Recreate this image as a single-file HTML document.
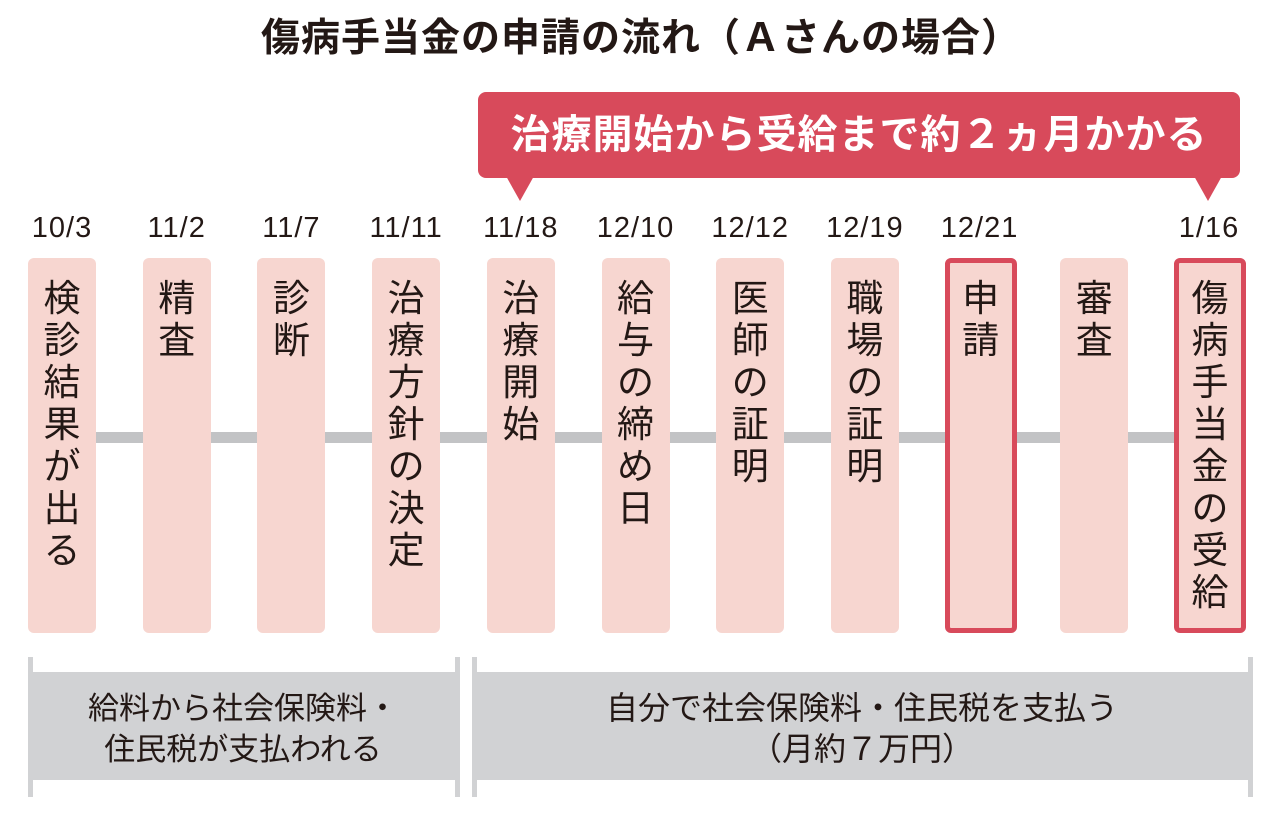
<!DOCTYPE html>
<html><head><meta charset="utf-8">
<style>
body{margin:0;width:1282px;height:820px;background:#fff;position:relative;overflow:hidden;font-family:"Liberation Sans","Noto Sans CJK JP",sans-serif;color:#231815}
.abs{position:absolute}
.title{left:0;width:1282px;top:14px;text-align:center;font-size:39px;font-weight:bold;letter-spacing:1px;line-height:50px}
.callout{left:478px;top:92px;width:762px;height:86px;background:#d84a5b;border-radius:8px;color:#fff;font-weight:bold;font-size:40px;line-height:86px;text-align:center;letter-spacing:1px}
.line{left:96px;top:432px;width:1080px;height:11px;background:#c2c3c5}
.box{top:258px;height:375px;width:68px;background:#f7d6d0;border-radius:6px;box-sizing:border-box;font-size:37px;line-height:42px;text-align:center;padding-top:20px}
.box.hl{border:5px solid #d84a5b;padding-top:15px;width:72px}
.date{top:212px;width:120px;text-align:center;font-size:29px;letter-spacing:1px}
.band{top:672px;height:108px;background:#d1d2d4;font-size:31px;line-height:41px;text-align:center;padding-top:16px;box-sizing:border-box}
.tick{top:657px;height:140px;width:5px;background:#d1d2d4}
</style></head><body>
<div class="abs title">傷病手当金の申請の流れ（Ａさんの場合）</div>
<div class="abs callout">治療開始から受給まで約２ヵ月かかる</div>
<svg class="abs" style="left:0;top:0" width="1282" height="210">
<polygon points="506,176 534,176 520,201" fill="#d84a5b"/>
<polygon points="1194,176 1222,176 1208,201" fill="#d84a5b"/>
</svg>
<div class="abs line"></div>
<div id="tl"></div>
<div class="abs band" style="left:28px;width:430px">給料から社会保険料・<br>住民税が支払われる</div>
<div class="abs band" style="left:472px;width:780px;font-size:32px">自分で社会保険料・住民税を支払う<br>（月約７万円）</div>
<div class="abs tick" style="left:28px"></div>
<div class="abs tick" style="left:455px"></div>
<div class="abs tick" style="left:472px"></div>
<div class="abs tick" style="left:1248px"></div>
<script>
const dates=["10/3","11/2","11/7","11/11","11/18","12/10","12/12","12/19","12/21","","1/16"];
const labels=["検診結果が出る","精査","診断","治療方針の決定","治療開始","給与の締め日","医師の証明","職場の証明","申請","審査","傷病手当金の受給"];
const highlighted=[8,10];
const tl=document.getElementById('tl');
labels.forEach((t,i)=>{
  const x=28+i*114.7;
  const hl=highlighted.includes(i);
  const b=document.createElement('div');
  b.className='abs box'+(hl?' hl':'');
  b.style.left=(hl?x-1:x)+'px';
  b.innerHTML=t.split('').join('<br>');
  
  
  tl.appendChild(b);
  if(dates[i]){
    const d=document.createElement('div');
    d.className='abs date';
    d.style.left=(x+34-60)+'px';
    d.textContent=dates[i];
    
    
    tl.appendChild(d);
  }
});
</script>
</body></html>
